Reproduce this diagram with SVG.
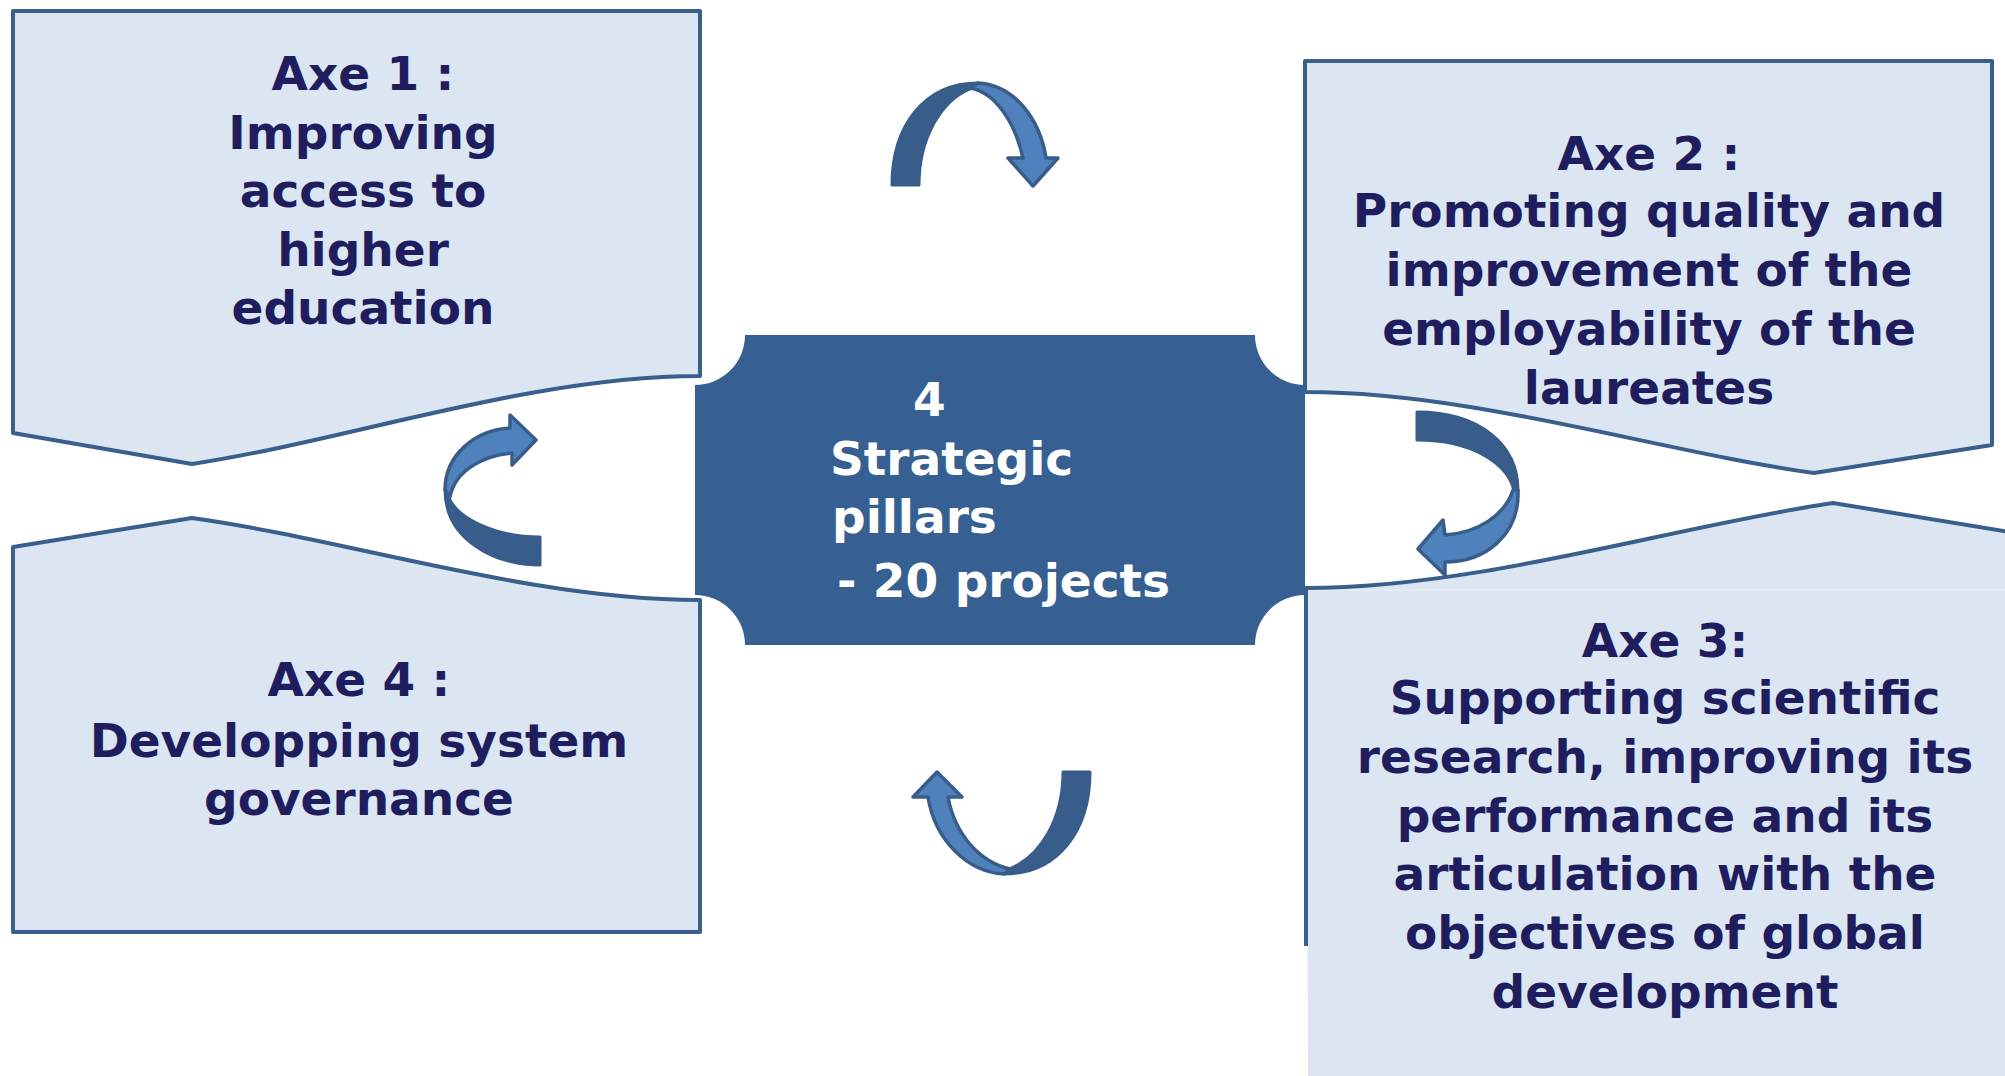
<svg xmlns="http://www.w3.org/2000/svg" width="2005" height="1076" viewBox="0 0 2005 1076">
<style>
.box{fill:#dce6f2;stroke:#3a5f8d;stroke-width:4;stroke-linejoin:round}
.fillonly{fill:#dce6f2;stroke:none}
.edge{fill:none;stroke:#3a5f8d;stroke-width:4;stroke-linejoin:round}
.t{font-family:"DejaVu Sans","Verdana",sans-serif;font-weight:bold;font-size:47px;fill:#201d5e;text-anchor:middle}
.c{font-family:"DejaVu Sans","Verdana",sans-serif;font-weight:bold;font-size:47px;fill:#ffffff}
.dark{fill:#385d8a;stroke:#385d8a;stroke-width:3;stroke-linejoin:round}
.light{fill:#4f81bd;stroke:#385d8a;stroke-width:3.5;stroke-linejoin:round}
</style>
<rect width="2005" height="1076" fill="#ffffff"/>

<g id="axe1">
<path class="box" d="M13,11 H700 V376 C530,376 350,440 192,464 L13,433 Z"/>
<text class="t" x="363" y="90">Axe 1 :</text>
<text class="t" x="363" y="149">Improving</text>
<text class="t" x="363" y="207">access to</text>
<text class="t" x="363" y="266">higher</text>
<text class="t" x="363" y="324">education</text>
</g>

<g id="axe4">
<path class="box" d="M13,547 L192,518 C350,540 530,600 700,600 V932 H13 Z"/>
<text class="t" x="359" y="696">Axe 4 :</text>
<text class="t" x="359" y="757">Developping system</text>
<text class="t" x="359" y="815">governance</text>
</g>

<g id="axe2">
<path class="box" d="M1305,61 H1992 V445 L1814,473 C1656,451 1475,392 1305,392 Z"/>
<text class="t" x="1649" y="170">Axe 2 :</text>
<text class="t" x="1649" y="227">Promoting quality and</text>
<text class="t" x="1649" y="286">improvement of the</text>
<text class="t" x="1649" y="345">employability of the</text>
<text class="t" x="1649" y="404">laureates</text>
</g>

<g id="axe3">
<path class="fillonly" d="M1306,588 C1480,588 1675,526 1833,503 L2005,531 V1076 H1308 Z"/>
<line x1="1310" y1="590" x2="2005" y2="590" stroke="#e8eef7" stroke-width="1.5"/>
<path class="edge" d="M1306,946 V588 C1480,588 1675,526 1833,503 L2010,532"/>
<text class="t" x="1665" y="657">Axe 3:</text>
<text class="t" x="1665" y="714">Supporting scientific</text>
<text class="t" x="1665" y="773">research, improving its</text>
<text class="t" x="1665" y="832">performance and its</text>
<text class="t" x="1665" y="890">articulation with the</text>
<text class="t" x="1665" y="949">objectives of global</text>
<text class="t" x="1665" y="1008">development</text>
</g>

<g id="center">
<path d="M745,335 H1255 A50,50 0 0 0 1305,385 V595 A50,50 0 0 0 1255,645 H745 A50,50 0 0 0 695,595 V385 A50,50 0 0 0 745,335 Z" fill="#376092"/>
<text class="c" x="913" y="416">4</text>
<text class="c" x="830" y="475">Strategic</text>
<text class="c" x="832" y="533">pillars</text>
<text class="c" x="837" y="597">- 20 projects</text>
</g>

<g id="connectors">
<g id="arrow-top">
<path class="dark" d="M892,185 C892,125 925,83 978,83 L972,88 C940,100 919,140 919,185 Z"/>
<path class="light" d="M978,83 C1015,85 1040,120 1046,158 L1058,158 L1033,186 L1008,158 L1023,158 C1015,122 995,92 970,88 Z"/>
</g>
<g id="arrow-right">
<path class="dark" d="M1417,412 C1480,412 1518,445 1518,490 L1515,495 C1510,462 1470,440 1417,440 Z"/>
<path class="light" d="M1518,490 C1520,535 1485,562 1445,562 L1445,575 L1418,549 L1443,520 L1445,535 C1478,533 1505,515 1513,490 Z"/>
</g>
<g id="arrow-bottom">
<path class="dark" d="M1090,772 C1090,832 1057,874 1004,874 L1007,870 C1042,857 1063,817 1063,772 Z"/>
<path class="light" d="M1004,874 C967,872 935,840 928,797 L913,797 L937,772 L962,797 L948,797 C955,835 980,862 1010,869 Z"/>
</g>
<g id="arrow-left">
<path class="dark" d="M540,537 L540,565 C495,565 445,540 445,490 L448,495 C455,518 495,537 540,537 Z"/>
<path class="light" d="M445,490 C445,455 475,430 510,428 L510,415 L536,440 L512,465 L512,453 C485,455 455,470 450,497 Z"/>
</g>
</g>
</svg>
